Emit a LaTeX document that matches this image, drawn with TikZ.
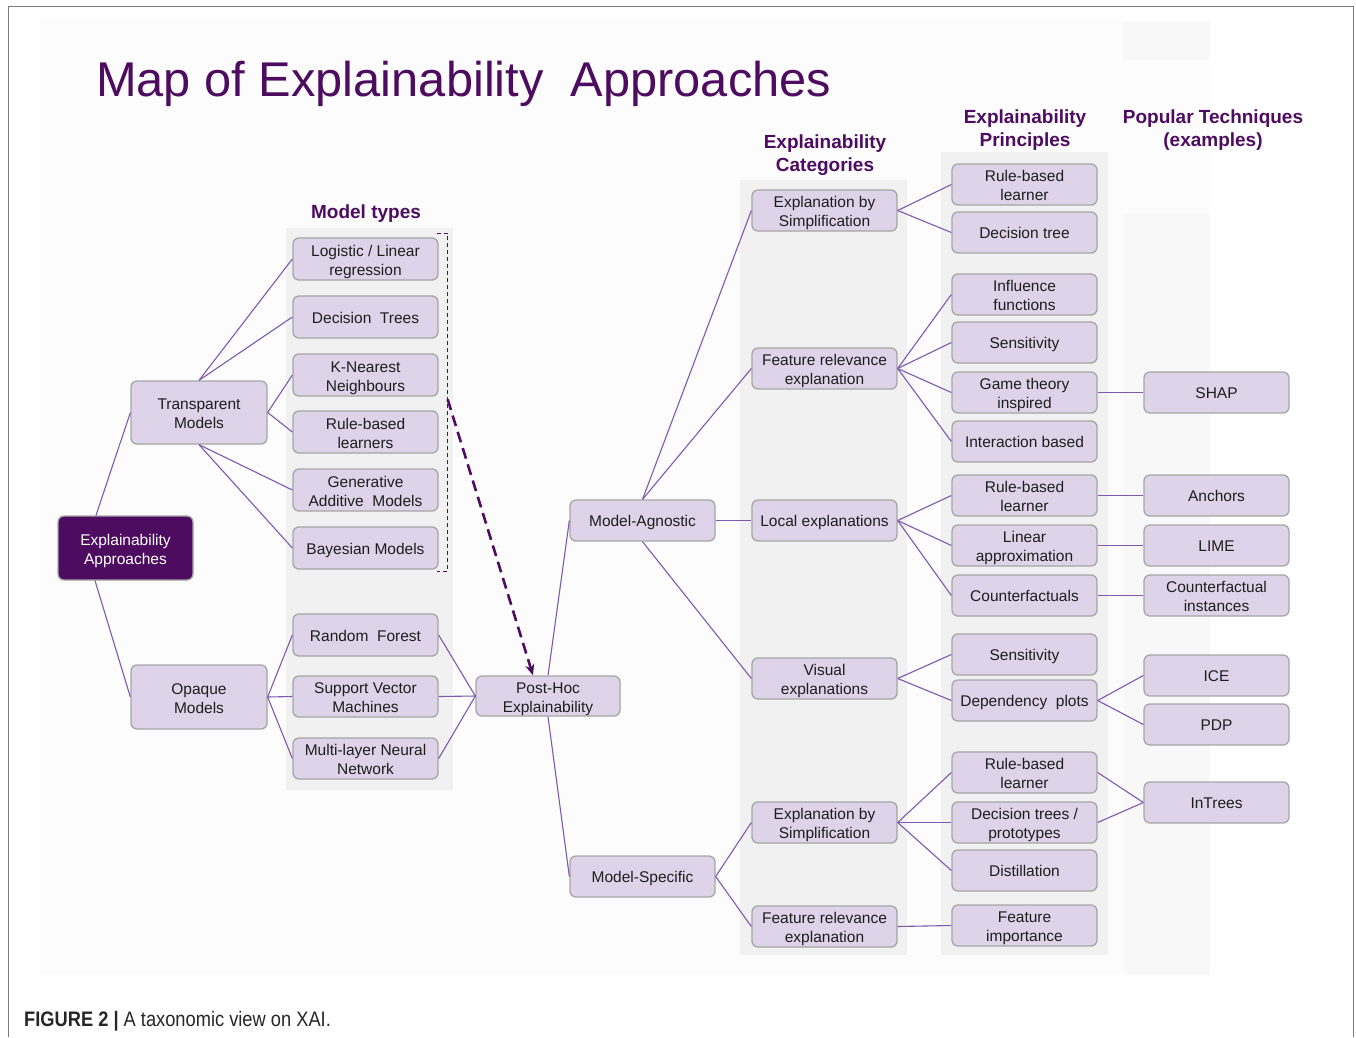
\documentclass[tikz,border=0pt]{standalone}
\usepackage{fontspec}
\setmainfont{Liberation Sans}
\usetikzlibrary{arrows.meta,calc}
\definecolor{dpurple}{HTML}{4D0C60}
\definecolor{boxfill}{HTML}{DED3E8}
\definecolor{boxborder}{HTML}{A6A6A6}
\definecolor{conn}{HTML}{8058B0}
\definecolor{colbg}{HTML}{F1F1F1}
\definecolor{faint}{HTML}{FCFCFC}
\definecolor{faint2}{HTML}{F8F8F8}
\definecolor{frame}{HTML}{7A7A7A}
\definecolor{txt}{HTML}{1E1E1E}
\begin{document}
\begin{tikzpicture}[x=1pt,y=-1pt,
  box/.style={draw=boxborder, fill=boxfill, rounded corners=6pt, line width=1.3pt,
    align=center, text=txt, font=\fontsize{15.5}{19}\selectfont, inner sep=0pt,
    text height=15.5pt, text depth=3.5pt, minimum width=145pt, minimum height=41pt},
  ml/.style={text height=35.5pt, text depth=3.5pt},
  rootbox/.style={box, ml, fill=dpurple, text=white, minimum width=135pt, minimum height=64pt},
  bigbox/.style={box, ml, minimum width=136pt, minimum height=63pt},
  link/.style={draw=conn, line width=1.1pt},
  header/.style={text=dpurple, align=center, font=\fontsize{19}{23}\selectfont\bfseries},
  bracket/.style={draw=dpurple, line width=0.9pt, dash pattern=on 4pt off 3pt},
  dasharrow/.style={draw=dpurple, line width=2.6pt, dash pattern=on 11pt off 6pt, -{Stealth[length=11pt,width=9pt]}}
]
\useasboundingbox (0,0) rectangle (1356,1037);
% frame
\draw[frame, line width=1pt] (8,1037) -- (8,6) -- (1353,6) -- (1353,1037);
% faint backgrounds
\fill[faint] (40,20) rectangle (1210,975);
\fill[faint2] (1123,22) rectangle (1210,60);
\fill[faint2] (1124,213) rectangle (1210,975);
% column backgrounds
\fill[colbg] (286,228) rectangle (453,790);
\fill[colbg] (740,180) rectangle (907,955);
\fill[colbg] (941,152) rectangle (1108,955);

% title and headers
\node[anchor=base west, text=dpurple, font=\fontsize{48.8}{55}\selectfont, inner sep=0pt] (title) at (96,96) {Map of Explainability\ \ Approaches};
\node[header] (hmt) at (366,214) {Model types};
\node[header] (hcat) at (825,155.5) {Explainability\\Categories};
\node[header] (hpri) at (1025,130.5) {Explainability\\Principles};
\node[header] (htec) at (1213,130.5) {Popular Techniques\\(examples)};
\node[anchor=base west, inner sep=0pt, text=black!85] (cap) at (24,1026) {\scalebox{0.87}[1]{\fontsize{21}{24}\selectfont\textbf{FIGURE 2 |} A taxonomic view on XAI.}};

% nodes
\node[rootbox] (root) at (125.5,548) {Explainability\\Approaches};
\node[bigbox] (trans) at (199,412.5) {Transparent\\Models};
\node[bigbox, minimum height=64pt] (opaque) at (199,697) {Opaque\\Models};

\node[box, ml, minimum height=42pt] (log) at (365.5,259) {Logistic / Linear\\regression};
\node[box, minimum height=42pt] (dtr) at (365.5,317) {Decision\ \ Trees};
\node[box, ml, minimum height=42pt] (knn) at (365.5,375) {K-Nearest\\Neighbours};
\node[box, ml, minimum height=42pt] (rbl) at (365.5,432) {Rule-based\\learners};
\node[box, ml, minimum height=42pt] (gam) at (365.5,490) {Generative\\Additive\ \ Models};
\node[box, minimum height=42pt] (bay) at (365.5,548) {Bayesian Models};
\node[box, minimum height=42pt] (rf) at (365.5,635) {Random\ \ Forest};
\node[box, ml] (svm) at (365.5,696.5) {Support Vector\\Machines};
\node[box, ml] (mlp) at (365.5,758.5) {Multi-layer Neural\\Network};

\node[box, ml, minimum width=144pt, minimum height=40pt] (post) at (548,696) {Post-Hoc\\Explainability};
\node[box] (agn) at (642.5,520.5) {Model-Agnostic};
\node[box] (spe) at (642.5,876.5) {Model-Specific};

\node[box, ml] (es1) at (824.5,210.5) {Explanation by\\Simplification};
\node[box, ml] (fr1) at (824.5,368.5) {Feature relevance\\explanation};
\node[box] (loc) at (824.5,520.5) {Local explanations};
\node[box, ml] (vis) at (824.5,678.5) {Visual\\explanations};
\node[box, ml] (es2) at (824.5,822.5) {Explanation by\\Simplification};
\node[box, ml] (fr2) at (824.5,926.5) {Feature relevance\\explanation};

\node[box, ml] (p1) at (1024.5,184.5) {Rule-based\\learner};
\node[box] (p2) at (1024.5,232.5) {Decision tree};
\node[box, ml] (p3) at (1024.5,294.5) {Influence\\functions};
\node[box] (p4) at (1024.5,342.5) {Sensitivity};
\node[box, ml] (p5) at (1024.5,392.5) {Game theory\\inspired};
\node[box] (p6) at (1024.5,441.5) {Interaction based};
\node[box, ml] (p7) at (1024.5,495.5) {Rule-based\\learner};
\node[box, ml] (p8) at (1024.5,545.5) {Linear\\approximation};
\node[box] (p9) at (1024.5,595.5) {Counterfactuals};
\node[box] (p10) at (1024.5,654.5) {Sensitivity};
\node[box] (p11) at (1024.5,700.5) {Dependency\ \ plots};
\node[box, ml] (p12) at (1024.5,772.5) {Rule-based\\learner};
\node[box, ml] (p13) at (1024.5,822.5) {Decision trees /\\prototypes};
\node[box] (p14) at (1024.5,870.5) {Distillation};
\node[box, ml] (p15) at (1024.5,925.5) {Feature\\importance};

\node[box] (shap) at (1216.5,392.5) {SHAP};
\node[box] (anc) at (1216.5,495.5) {Anchors};
\node[box] (lime) at (1216.5,545.5) {LIME};
\node[box, ml] (cfi) at (1216.5,595.5) {Counterfactual\\instances};
\node[box] (ice) at (1216.5,675.5) {ICE};
\node[box] (pdp) at (1216.5,724.5) {PDP};
\node[box] (intr) at (1216.5,802.5) {InTrees};

% connectors
\draw[link] ([xshift=-29.5pt]root.north) -- (trans.west);
\draw[link] ([xshift=-30.5pt]root.south) -- (opaque.west);
\draw[link] (trans.north) -- (log.west);
\draw[link] (trans.north) -- (dtr.west);
\draw[link] (trans.east) -- (knn.west);
\draw[link] (trans.east) -- (rbl.west);
\draw[link] (trans.south) -- (gam.west);
\draw[link] (trans.south) -- (bay.west);
\draw[link] (opaque.east) -- (rf.west);
\draw[link] (opaque.east) -- (svm.west);
\draw[link] (opaque.east) -- (mlp.west);
\draw[link] (post.west) -- (rf.east);
\draw[link] (post.west) -- (svm.east);
\draw[link] (post.west) -- (mlp.east);
\draw[link] (post.north) -- (agn.west);
\draw[link] (post.south) -- (spe.west);
\draw[link] (agn.north) -- (es1.west);
\draw[link] (agn.north) -- (fr1.west);
\draw[link] (agn.east) -- (loc.west);
\draw[link] (agn.south) -- (vis.west);
\draw[link] (spe.east) -- (es2.west);
\draw[link] (spe.east) -- (fr2.west);
\draw[link] (es1.east) -- (p1.west);
\draw[link] (es1.east) -- (p2.west);
\draw[link] (fr1.east) -- (p3.west);
\draw[link] (fr1.east) -- (p4.west);
\draw[link] (fr1.east) -- (p5.west);
\draw[link] (fr1.east) -- (p6.west);
\draw[link] (loc.east) -- (p7.west);
\draw[link] (loc.east) -- (p8.west);
\draw[link] (loc.east) -- (p9.west);
\draw[link] (vis.east) -- (p10.west);
\draw[link] (vis.east) -- (p11.west);
\draw[link] (es2.east) -- (p12.west);
\draw[link] (es2.east) -- (p13.west);
\draw[link] (es2.east) -- (p14.west);
\draw[link] (fr2.east) -- (p15.west);
\draw[link] (p5.east) -- (shap.west);
\draw[link] (p7.east) -- (anc.west);
\draw[link] (p8.east) -- (lime.west);
\draw[link] (p9.east) -- (cfi.west);
\draw[link] (p11.east) -- (ice.west);
\draw[link] (p11.east) -- (pdp.west);
\draw[link] (p12.east) -- (intr.west);
\draw[link] (p13.east) -- (intr.west);

% bracket and dashed arrow
\draw[bracket] ([xshift=-2pt,yshift=4pt]log.north east) -- ++(11,0) coordinate (bt) |- ([xshift=-2pt,yshift=-2pt]bay.south east);
\coordinate (bm) at ($(bt)+(0,166)$);
\draw[dasharrow] (bm) -- ([xshift=-15pt]post.north);
\end{tikzpicture}
\end{document}
